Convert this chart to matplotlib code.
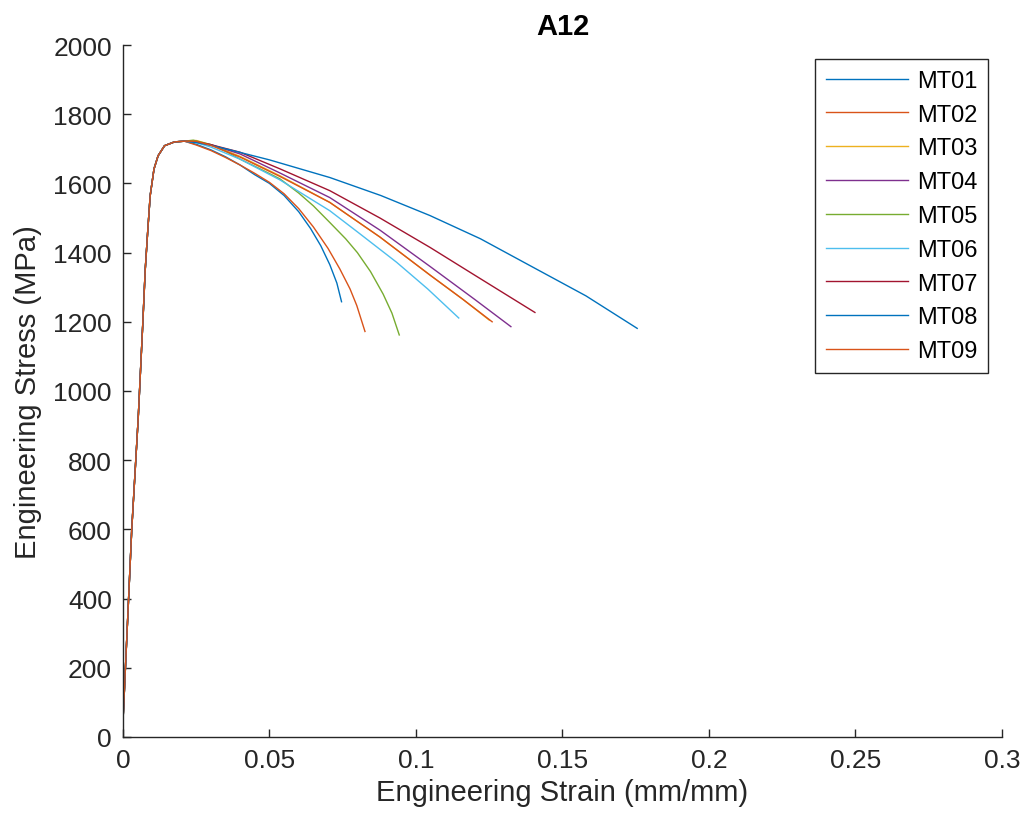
import numpy as np
import matplotlib.pyplot as plt

# DATOS
# tramo elastico y pico, comun a todas las probetas
rise_strain = [0.0, 0.003, 0.0052, 0.0068, 0.0076, 0.0085, 0.0093, 0.0106, 0.012, 0.0142, 0.0176, 0.021]
rise_stress = [42, 600, 920, 1200, 1350, 1468, 1565, 1642, 1680, 1709, 1720, 1722]

# tramos despues del pico
mt01_strain = [0.025, 0.03, 0.035, 0.04, 0.045, 0.05, 0.055, 0.06, 0.064, 0.0675, 0.0706, 0.073, 0.0746]
mt01_stress = [1713, 1697, 1677, 1653, 1625, 1600, 1565, 1518, 1470, 1420, 1365, 1312, 1258]
mt02_strain = [0.025, 0.03, 0.035, 0.04, 0.045, 0.05, 0.055, 0.06, 0.065, 0.07, 0.074, 0.0775, 0.0798, 0.0826]
mt02_stress = [1711, 1695, 1675, 1653, 1629, 1603, 1570, 1527, 1474, 1412, 1353, 1295, 1247, 1172]
mt03_strain = [0.025, 0.03, 0.04, 0.0536, 0.0706, 0.0877, 0.1048, 0.116, 0.125]
mt03_stress = [1724, 1712, 1678, 1622, 1545, 1445, 1335, 1265, 1205]
mt04_strain = [0.025, 0.03, 0.04, 0.0536, 0.0706, 0.0877, 0.1048, 0.12, 0.1324]
mt04_stress = [1720, 1712, 1685, 1630, 1559, 1465, 1360, 1265, 1186]
mt05_strain = [0.024, 0.03, 0.035, 0.04, 0.0468, 0.0536, 0.06, 0.065, 0.0706, 0.076, 0.08, 0.0845, 0.0888, 0.0918, 0.0943]
mt05_stress = [1725, 1712, 1693, 1670, 1642, 1613, 1572, 1535, 1487, 1440, 1400, 1345, 1280, 1225, 1162]
mt06_strain = [0.025, 0.03, 0.04, 0.0536, 0.0706, 0.08, 0.0934, 0.104, 0.1146]
mt06_stress = [1718, 1705, 1670, 1610, 1521, 1460, 1372, 1295, 1211]
mt07_strain = [0.025, 0.03, 0.04, 0.0536, 0.0706, 0.0877, 0.1048, 0.12, 0.1406]
mt07_stress = [1720, 1712, 1690, 1642, 1579, 1500, 1415, 1335, 1227]
mt08_strain = [0.025, 0.03, 0.0365, 0.05, 0.0706, 0.088, 0.1048, 0.122, 0.139, 0.158, 0.1755]
mt08_stress = [1718, 1710, 1697, 1668, 1617, 1565, 1507, 1440, 1362, 1275, 1181]
mt09_strain = [0.025, 0.03, 0.04, 0.0536, 0.0706, 0.0877, 0.1048, 0.116, 0.126]
mt09_stress = [1722, 1710, 1676, 1620, 1545, 1445, 1335, 1265, 1200]

nombres = ['MT01', 'MT02', 'MT03', 'MT04', 'MT05', 'MT06', 'MT07', 'MT08', 'MT09']
colores = ['#0072BD', '#D95319', '#EDB120', '#7E2F8E', '#77AC30', '#4DBEEE', '#A2142F', '#0072BD', '#D95319']
tramos = [(mt01_strain, mt01_stress), (mt02_strain, mt02_stress), (mt03_strain, mt03_stress),
          (mt04_strain, mt04_stress), (mt05_strain, mt05_stress), (mt06_strain, mt06_stress),
          (mt07_strain, mt07_stress), (mt08_strain, mt08_stress), (mt09_strain, mt09_stress)]

x_ticks = [0, 0.05, 0.1, 0.15, 0.2, 0.25, 0.3]
x_labels = ['0', '0.05', '0.1', '0.15', '0.2', '0.25', '0.3']
y_ticks = list(range(0, 2001, 200))

plt.rcParams['font.family'] = ['Liberation Sans', 'DejaVu Sans']
gris = '#262626'

fig = plt.figure(figsize=(10.28, 8.29), dpi=100)
ax = fig.add_axes([0.1196, 0.1098, 0.8551, 0.8347])

for i in range(0, len(nombres)):
    xs = np.concatenate([rise_strain, tramos[i][0]])
    ys = np.concatenate([rise_stress, tramos[i][1]])
    ax.plot(xs, ys, color=colores[i], lw=1.0, label=nombres[i])

ax.set_xlim(0, 0.3)
ax.set_ylim(0, 2000)
ax.set_xticks(x_ticks)
ax.set_xticklabels(x_labels)
ax.set_yticks(y_ticks)
ax.tick_params(direction='in', length=6, width=1, colors=gris, labelsize=19, pad=8)
for lado in ['top', 'right']:
    ax.spines[lado].set_visible(False)
for lado in ['left', 'bottom']:
    ax.spines[lado].set_color(gris)
    ax.spines[lado].set_linewidth(1)

ax.set_xlabel('Engineering Strain (mm/mm)', fontsize=21, color=gris, labelpad=4)
ax.set_ylabel('Engineering Stress (MPa)', fontsize=21, color=gris, labelpad=8)
ax.set_title('A12', fontsize=21, fontweight='bold', pad=8)

leg = ax.legend(loc='upper right', fontsize=17, frameon=True, fancybox=False, framealpha=1,
                edgecolor=gris, handlelength=3.5, handletextpad=0.35, labelspacing=0.5,
                borderaxespad=0.6, borderpad=0.45)
leg.get_frame().set_linewidth(1)
for t in leg.get_texts():
    t.set_color('#000000')

plt.savefig('out.png', dpi=100)
